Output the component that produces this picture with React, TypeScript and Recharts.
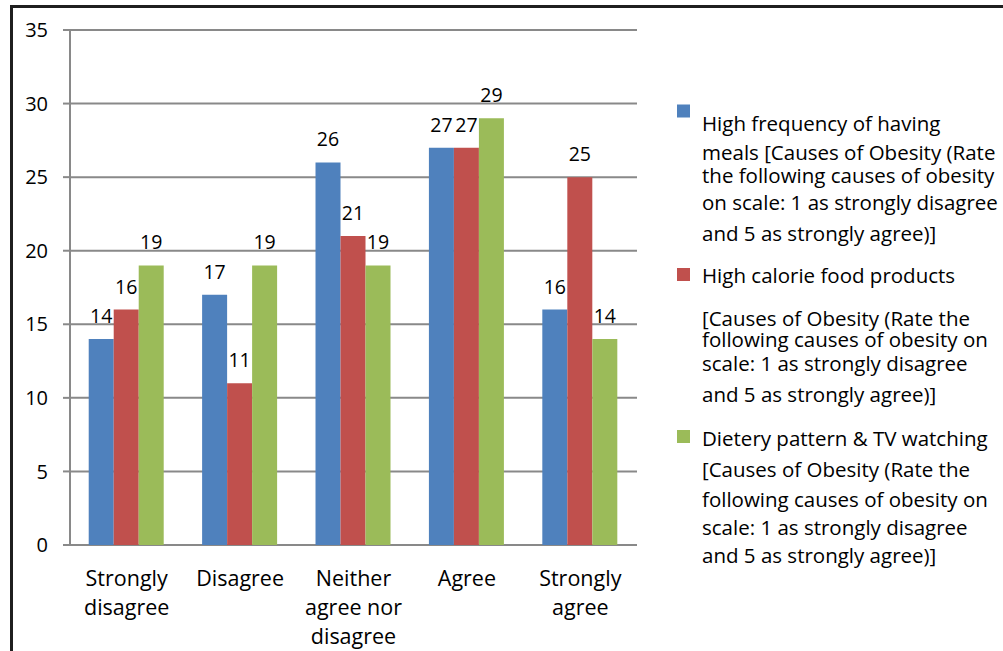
import { BarChart, Bar, XAxis, YAxis, CartesianGrid, LabelList } from "recharts";

const categories = ["Strongly disagree", "Disagree", "Neither agree nor disagree", "Agree", "Strongly agree"];
const tickLines = [["Strongly", "disagree"], ["Disagree"], ["Neither", "agree nor", "disagree"], ["Agree"], ["Strongly", "agree"]];
const mealsValues = [14, 17, 26, 27, 16];
const calorieValues = [16, 11, 21, 27, 25];
const dietValues = [19, 19, 19, 29, 14];
const yTicks = [0, 5, 10, 15, 20, 25, 30, 35];
const edgeTicks = [0, 1, 2, 3, 4, 5];

const seriesNames = ["meals", "calorie", "diet"];
const seriesColors = ["#4F81BD", "#C0504D", "#9BBB59"];
const legendLines = [
  ["High frequency of having", "meals [Causes of Obesity (Rate", "the following causes of obesity", "on scale: 1 as strongly disagree", "and 5 as strongly agree)]"],
  ["High calorie food products", "[Causes of Obesity (Rate the", "following causes of obesity on", "scale: 1 as strongly disagree", "and 5 as strongly agree)]"],
  ["Dietery pattern & TV watching", "[Causes of Obesity (Rate the", "following causes of obesity on", "scale: 1 as strongly disagree", "and 5 as strongly agree)]"],
];

// legend layout (px)
const legendSquareTops = [104.5, 268, 430];
const legendBaselines = [
  [131, 160, 183, 210, 241],
  [283, 326, 347, 371, 402],
  [446, 477, 507, 535, 563],
];

const data = categories.map((c, i) => ({
  name: c,
  meals: mealsValues[i],
  calorie: calorieValues[i],
  diet: dietValues[i],
}));

const FONT = "'Open Sans', sans-serif";
const GRID = "#898989";

function CategoryTick({ x, y, payload }: { x?: number; y?: number; payload?: { index: number } }) {
  const lines = tickLines[payload?.index ?? 0];
  return (
    <text x={x} y={(y ?? 0) + 33} textAnchor="middle" fontSize={21.5} fill="#000" fontFamily={FONT}>
      {lines.map((l, i) => (
        <tspan key={i} x={x} dy={i === 0 ? 0 : 29}>
          {l}
        </tspan>
      ))}
    </text>
  );
}

function LegendBlock() {
  return (
    <svg width={1003} height={651} style={{ position: "absolute", left: 0, top: 0, pointerEvents: "none" }}>
      {seriesNames.map((s, i) => (
        <g key={s}>
          <rect x={677} y={legendSquareTops[i]} width={13} height={13} fill={seriesColors[i]} />
          {legendLines[i].map((line, j) => (
            <text key={j} x={702} y={legendBaselines[i][j]} fontSize={20.5} fontFamily={FONT} fill="#000">
              {line}
            </text>
          ))}
        </g>
      ))}
    </svg>
  );
}

export default function App() {
  return (
    <div
      style={{
        position: "absolute",
        left: 0,
        top: 0,
        width: 1003,
        height: 651,
        overflow: "hidden",
        background: "#fff",
        fontFamily: FONT,
      }}
    >
      <div
        style={{
          position: "absolute",
          left: 10,
          top: 5,
          width: 1100,
          height: 800,
          border: "3px solid #1f1f1f",
        }}
      />
      <BarChart
        width={1003}
        height={651}
        data={data}
        margin={{ top: 30, right: 366, left: 0, bottom: 0 }}
        barCategoryGap="16.5%"
        barGap={0}
        style={{ position: "absolute", left: 0, top: 0 }}
      >
        <CartesianGrid vertical={false} stroke={GRID} strokeWidth={2} />
        <XAxis
          xAxisId="edge"
          type="number"
          dataKey={() => 0}
          domain={[0, categories.length]}
          ticks={edgeTicks}
          allowDataOverflow
          height={0}
          tick={false}
          tickSize={8}
          axisLine={{ stroke: GRID, strokeWidth: 2 }}
          tickLine={{ stroke: GRID, strokeWidth: 2 }}
        />
        <XAxis
          xAxisId="cat"
          dataKey="name"
          height={106}
          axisLine={false}
          tickLine={false}
          interval={0}
          tick={<CategoryTick />}
        />
        <YAxis
          width={70}
          domain={[0, 35]}
          ticks={yTicks}
          tickSize={7}
          tickMargin={15}
          axisLine={{ stroke: GRID, strokeWidth: 2 }}
          tickLine={{ stroke: GRID, strokeWidth: 2 }}
          tick={{ fill: "#000", fontSize: 20, fontFamily: FONT }}
        />
        {seriesNames.map((s, i) => (
          <Bar key={s} xAxisId="cat" dataKey={s} fill={seriesColors[i]} isAnimationActive={false}>
            <LabelList dataKey={s} position="top" offset={16} fill="#000" fontSize={19.5} fontFamily={FONT} />
          </Bar>
        ))}
      </BarChart>
      <LegendBlock />
    </div>
  );
}
